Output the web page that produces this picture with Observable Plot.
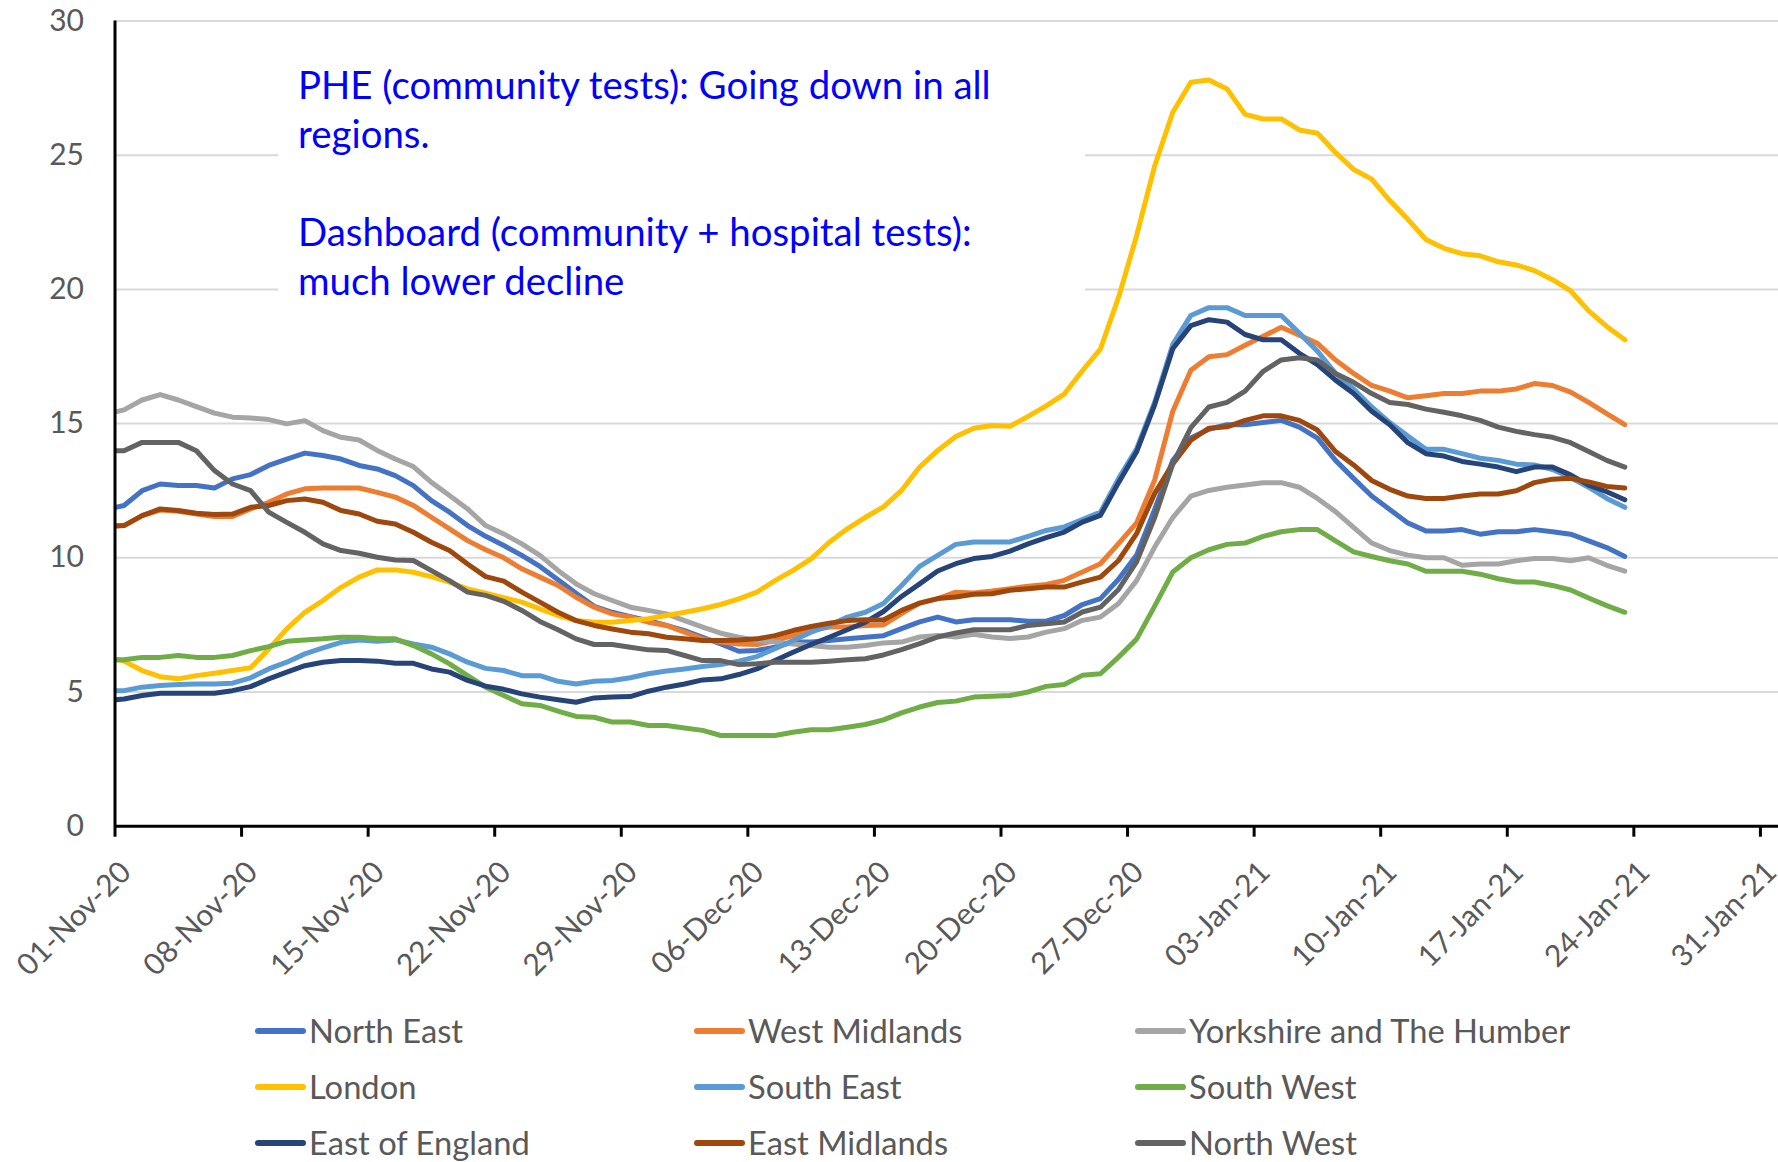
<!DOCTYPE html>
<html>
<head>
<meta charset="utf-8">
<script src="https://cdn.jsdelivr.net/npm/d3@7"></script>
<script src="https://cdn.jsdelivr.net/npm/@observablehq/plot@0.6"></script>
<style>
  html, body { margin: 0; padding: 0; background: #fff; overflow: hidden; }
  #wrap { position: relative; width: 1778px; height: 1162px; overflow: hidden; font-family: Lato, "Open Sans", sans-serif; }
  #chart { position: absolute; left: 0; top: 0; }
  #note { position: absolute; left: 278px; top: 35px; width: 807px; height: 285px; background: #fff;
          color: #0000ff; font-size: 38.4px; line-height: 49px; box-sizing: border-box; padding: 25px 0 0 20px; white-space: nowrap; }
  #legend { position: absolute; left: 255px; top: 1003px; display: grid;
            grid-template-columns: 439px 441px 420px; grid-auto-rows: 56px; color: #595959; font-size: 32.7px; line-height: 1; }
  .item { display: flex; align-items: center; white-space: nowrap; }
  .sw { width: 51px; height: 6px; border-radius: 3px; margin-right: 3px; flex: none; }
</style>
</head>
<body>
<div id="wrap">
  <div id="chart"></div>
  <div id="note">PHE (community tests): Going down in all<br>regions.<br><br>Dashboard (community + hospital tests):<br>much lower decline</div>
  <div id="legend"></div>
</div>
<script>
// ---------------- DATA ----------------
// Daily values, 31-Oct-20 .. 23-Jan-21 (the 31-Oct point is clipped at the axis)
const regions = ["North East", "West Midlands", "Yorkshire and The Humber",
                 "London", "South East", "South West",
                 "East of England", "East Midlands", "North West"];
const colors = ["#4472C4", "#ED7D31", "#A5A5A5",
                "#FFC000", "#5B9BD5", "#70AD47",
                "#264478", "#9E480E", "#636363"];

const northEast = [11.8,
  11.95, 12.5, 12.75, 12.69, 12.69, 12.6, 12.94, 13.1, 13.44, 13.68,
  13.9, 13.81, 13.68, 13.44, 13.31, 13.06, 12.69, 12.13, 11.7, 11.2,
  10.8, 10.46, 10.09, 9.68, 9.18, 8.68, 8.19, 7.97, 7.81, 7.66,
  7.48, 7.29, 7.04, 6.79, 6.52, 6.55, 6.67, 6.86, 6.86, 6.92,
  6.98, 7.04, 7.1, 7.36, 7.61, 7.79, 7.61, 7.69, 7.69, 7.69,
  7.64, 7.64, 7.85, 8.26, 8.48, 9.2, 10.1, 11.8, 13.63, 14.46,
  14.79, 14.96, 14.96, 15.04, 15.12, 14.87, 14.46, 13.63, 12.96, 12.3,
  11.8, 11.3, 11.0, 11.0, 11.05, 10.88, 10.97, 10.97, 11.05, 10.97,
  10.88, 10.63, 10.38, 10.05];
const westMidlands = [11.2,
  11.2, 11.57, 11.78, 11.73, 11.63, 11.54, 11.54, 11.82, 12.07, 12.38,
  12.57, 12.6, 12.6, 12.6, 12.44, 12.26, 11.95, 11.51, 11.08, 10.64,
  10.3, 10.0, 9.59, 9.28, 8.97, 8.53, 8.16, 7.91, 7.79, 7.6,
  7.48, 7.23, 6.98, 6.86, 6.79, 6.77, 6.92, 7.1, 7.29, 7.42,
  7.42, 7.48, 7.5, 7.92, 8.31, 8.48, 8.72, 8.69, 8.76, 8.85,
  8.94, 9.01, 9.16, 9.47, 9.78, 10.53, 11.3, 12.9, 15.46, 16.99,
  17.49, 17.57, 17.92, 18.25, 18.59, 18.29, 17.99, 17.37, 16.87, 16.42,
  16.21, 15.96, 16.04, 16.12, 16.12, 16.21, 16.21, 16.29, 16.49, 16.42,
  16.17, 15.79, 15.37, 14.96];
const yorkshire = [15.35,
  15.51, 15.88, 16.08, 15.88, 15.63, 15.39, 15.24, 15.21, 15.15, 14.99,
  15.11, 14.74, 14.49, 14.39, 14.0, 13.68, 13.4, 12.81, 12.32, 11.82,
  11.2, 10.89, 10.52, 10.09, 9.53, 9.03, 8.66, 8.41, 8.16, 8.04,
  7.91, 7.66, 7.42, 7.19, 7.04, 6.92, 6.86, 6.79, 6.73, 6.67,
  6.67, 6.73, 6.83, 6.86, 7.05, 7.11, 7.05, 7.15, 7.05, 6.99,
  7.05, 7.23, 7.36, 7.67, 7.79, 8.3, 9.15, 10.4, 11.5, 12.3,
  12.51, 12.63, 12.71, 12.8, 12.8, 12.63, 12.21, 11.72, 11.13, 10.55,
  10.27, 10.1, 10.0, 10.0, 9.72, 9.77, 9.77, 9.89, 9.97, 9.97,
  9.89, 10.0, 9.72, 9.5];
const london = [6.3,
  6.15, 5.8, 5.57, 5.49, 5.61, 5.7, 5.8, 5.9, 6.6, 7.35,
  7.97, 8.41, 8.9, 9.28, 9.55, 9.55, 9.46, 9.3, 9.09, 8.84,
  8.68, 8.51, 8.35, 8.1, 7.85, 7.66, 7.6, 7.6, 7.66, 7.73,
  7.85, 7.97, 8.1, 8.26, 8.47, 8.72, 9.15, 9.53, 9.96, 10.58,
  11.08, 11.51, 11.9, 12.51, 13.38, 14.0, 14.52, 14.83, 14.93, 14.9,
  15.27, 15.66, 16.1, 16.97, 17.78, 19.7, 22.0, 24.6, 26.6, 27.72,
  27.8, 27.47, 26.52, 26.35, 26.35, 25.94, 25.82, 25.1, 24.47, 24.11,
  23.31, 22.61, 21.86, 21.53, 21.33, 21.25, 21.03, 20.91, 20.7, 20.36,
  19.95, 19.2, 18.62, 18.12];
const southEast = [5.05,
  5.05, 5.18, 5.24, 5.28, 5.3, 5.3, 5.33, 5.53, 5.86, 6.11,
  6.42, 6.64, 6.85, 6.94, 6.89, 6.94, 6.79, 6.67, 6.42, 6.11,
  5.88, 5.8, 5.61, 5.61, 5.4, 5.3, 5.4, 5.43, 5.53, 5.68,
  5.78, 5.86, 5.95, 6.02, 6.15, 6.32, 6.61, 6.92, 7.23, 7.48,
  7.79, 7.97, 8.3, 8.97, 9.68, 10.09, 10.5, 10.59, 10.59, 10.59,
  10.8, 11.02, 11.15, 11.42, 11.7, 12.95, 14.06, 15.8, 17.95, 19.03,
  19.32, 19.32, 19.03, 19.03, 19.03, 18.37, 17.7, 16.87, 16.29, 15.62,
  15.04, 14.54, 14.04, 14.04, 13.88, 13.71, 13.63, 13.49, 13.46, 13.29,
  12.99, 12.63, 12.21, 11.88];
const southWest = [6.2,
  6.2, 6.29, 6.29, 6.36, 6.29, 6.29, 6.36, 6.54, 6.69, 6.89,
  6.94, 6.98, 7.04, 7.04, 6.98, 6.98, 6.73, 6.42, 6.05, 5.61,
  5.18, 4.87, 4.56, 4.5, 4.29, 4.09, 4.06, 3.88, 3.88, 3.75,
  3.75, 3.66, 3.57, 3.38, 3.38, 3.38, 3.38, 3.5, 3.59, 3.59,
  3.69, 3.79, 3.96, 4.22, 4.44, 4.61, 4.66, 4.81, 4.84, 4.87,
  5.0, 5.21, 5.28, 5.62, 5.68, 6.3, 6.97, 8.2, 9.47, 10.0,
  10.3, 10.5, 10.55, 10.8, 10.97, 11.05, 11.05, 10.63, 10.22, 10.05,
  9.89, 9.77, 9.5, 9.5, 9.5, 9.39, 9.22, 9.1, 9.1, 8.97,
  8.8, 8.5, 8.22, 7.97];
const eastOfEngland = [4.68,
  4.74, 4.87, 4.95, 4.95, 4.95, 4.95, 5.05, 5.2, 5.49, 5.74,
  5.98, 6.11, 6.17, 6.17, 6.15, 6.07, 6.07, 5.86, 5.74, 5.43,
  5.22, 5.1, 4.93, 4.81, 4.71, 4.62, 4.78, 4.81, 4.83, 5.03,
  5.18, 5.3, 5.45, 5.49, 5.65, 5.86, 6.17, 6.48, 6.77, 7.04,
  7.32, 7.6, 8.0, 8.56, 9.03, 9.51, 9.78, 9.97, 10.05, 10.25,
  10.52, 10.75, 10.96, 11.33, 11.58, 12.8, 13.95, 15.7, 17.79, 18.65,
  18.87, 18.78, 18.32, 18.12, 18.12, 17.62, 17.2, 16.62, 16.12, 15.46,
  14.96, 14.29, 13.88, 13.79, 13.59, 13.49, 13.38, 13.21, 13.38, 13.38,
  13.09, 12.71, 12.46, 12.16];
const eastMidlands = [11.15,
  11.2, 11.57, 11.82, 11.76, 11.66, 11.61, 11.63, 11.88, 11.95, 12.13,
  12.19, 12.07, 11.76, 11.63, 11.36, 11.26, 10.95, 10.58, 10.27, 9.77,
  9.3, 9.13, 8.72, 8.35, 7.97, 7.66, 7.48, 7.35, 7.23, 7.17,
  7.04, 6.98, 6.92, 6.92, 6.94, 6.98, 7.1, 7.29, 7.44, 7.56,
  7.66, 7.69, 7.68, 8.04, 8.31, 8.48, 8.54, 8.64, 8.66, 8.79,
  8.85, 8.91, 8.91, 9.1, 9.28, 9.9, 10.9, 12.4, 13.5, 14.38,
  14.83, 14.88, 15.12, 15.29, 15.29, 15.12, 14.76, 13.96, 13.46, 12.88,
  12.55, 12.3, 12.21, 12.21, 12.3, 12.38, 12.38, 12.5, 12.8, 12.93,
  12.96, 12.83, 12.66, 12.6];
const northWest = [13.99,
  13.99, 14.3, 14.3, 14.3, 13.99, 13.25, 12.75, 12.5, 11.7, 11.32,
  10.95, 10.52, 10.27, 10.17, 10.02, 9.92, 9.9, 9.52, 9.15, 8.72,
  8.6, 8.38, 8.04, 7.63, 7.32, 6.98, 6.77, 6.77, 6.67, 6.57,
  6.55, 6.36, 6.17, 6.17, 6.02, 6.05, 6.11, 6.11, 6.11, 6.15,
  6.2, 6.24, 6.38, 6.58, 6.8, 7.05, 7.2, 7.32, 7.32, 7.32,
  7.48, 7.54, 7.61, 7.98, 8.16, 8.82, 9.85, 11.5, 13.5, 14.85,
  15.62, 15.79, 16.21, 16.95, 17.37, 17.45, 17.37, 16.87, 16.54, 16.12,
  15.79, 15.71, 15.54, 15.42, 15.29, 15.12, 14.87, 14.71, 14.59, 14.49,
  14.29, 13.96, 13.63, 13.38];

const seriesValues = [northEast, westMidlands, yorkshire, london, southEast, southWest,
                      eastOfEngland, eastMidlands, northWest];

const firstDate = "2020-10-31";
const endDate = "2021-01-24";          // exclusive
const xDomain = ["2020-11-01", "2021-02-01"];
const xTicks = ["2020-11-01", "2020-11-08", "2020-11-15", "2020-11-22", "2020-11-29",
                "2020-12-06", "2020-12-13", "2020-12-20", "2020-12-27", "2021-01-03",
                "2021-01-10", "2021-01-17", "2021-01-24", "2021-01-31"];
const yTicks = [0, 5, 10, 15, 20, 25, 30];

// ---------------- BUILD ----------------
const dates = d3.utcDays(new Date(firstDate), new Date(endDate));
const rows = regions.flatMap((r, i) =>
  seriesValues[i].map((v, j) => ({region: r, date: d3.utcHour.offset(dates[j], 12), value: v})));

const chart = Plot.plot({
  width: 1778,
  height: 1000,
  marginTop: 20.5,
  marginBottom: 174.3,
  marginLeft: 114.5,
  marginRight: 0,
  style: {fontFamily: "Lato, 'Open Sans', sans-serif", fontSize: "30px", background: "transparent", overflow: "visible"},
  x: {type: "utc", domain: xDomain.map(d => new Date(d))},
  y: {domain: [0, 30]},
  color: {domain: regions, range: colors},
  marks: [
    Plot.gridY(yTicks.filter(v => v > 0), {stroke: "#D9D9D9", strokeOpacity: 1, strokeWidth: 2}),
    Plot.line(rows, {x: "date", y: "value", z: "region", stroke: "region",
                     strokeWidth: 5, strokeLinejoin: "round", strokeLinecap: "round", clip: true}),
    Plot.axisY(yTicks, {tickSize: 0, tickPadding: 31, fill: "#595959", fontSize: 30, label: null}),
    Plot.axisX(xTicks.map(d => new Date(d)), {tickSize: 11, stroke: "black", strokeWidth: 3, fill: "none", label: null}),
    Plot.axisX(xTicks.map(d => new Date(d)), {tickSize: 0, tickPadding: 41, tickRotate: -45, dx: 11,
      tickFormat: d3.utcFormat("%d-%b-%y"), fill: "#595959", fontSize: 30, label: null}),
    Plot.ruleY([0], {stroke: "black", strokeWidth: 3}),
    Plot.ruleX([new Date(xDomain[0])], {stroke: "black", strokeWidth: 3})
  ]
});
document.getElementById("chart").appendChild(chart);

// Legend
const legend = document.getElementById("legend");
regions.forEach((r, i) => {
  const item = document.createElement("div");
  item.className = "item";
  const sw = document.createElement("span");
  sw.className = "sw";
  sw.style.background = colors[i];
  const label = document.createElement("span");
  label.textContent = r;
  item.appendChild(sw);
  item.appendChild(label);
  legend.appendChild(item);
});
</script>
</body>
</html>
